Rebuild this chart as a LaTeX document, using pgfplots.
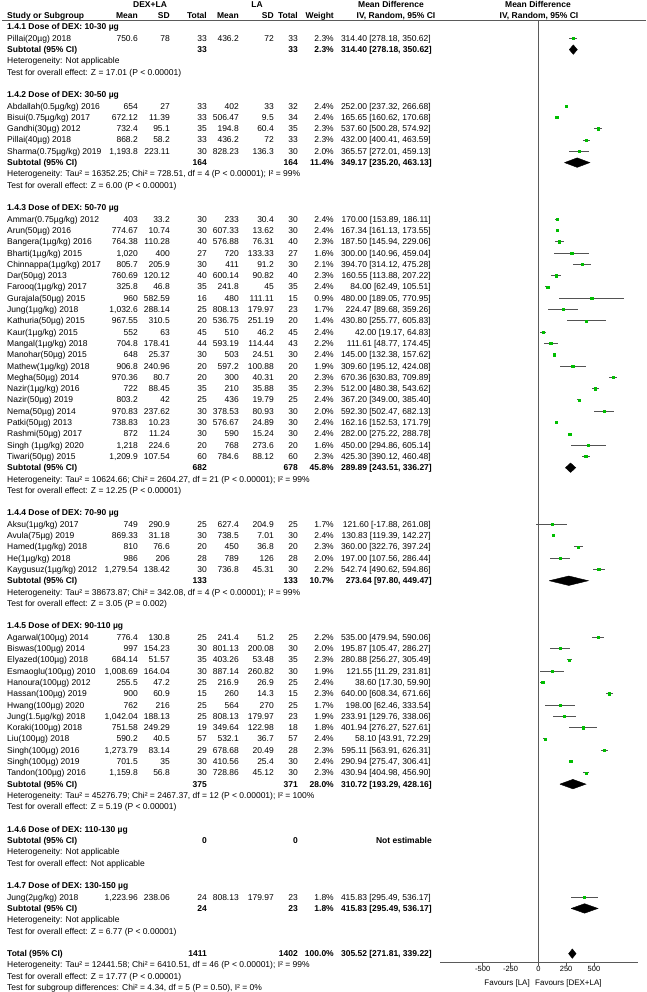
\documentclass[border=0pt]{standalone}
\usepackage{fontspec}
\setmainfont{Liberation Sans}
\usepackage{pgfplots}
\pgfplotsset{compat=1.18}
\usepackage{pgfplotstable}

\definecolor{mk}{RGB}{0,190,0}
\definecolor{ln}{RGB}{90,90,90}

% study rows: row index, mean difference, lower, upper
\pgfplotstableread{
row md lo hi
1 314.40 278.18 350.62
7 252.00 237.32 266.68
8 165.65 160.62 170.68
9 537.60 500.28 574.92
10 432.00 400.41 463.59
11 365.57 272.01 459.13
17 170.00 153.89 186.11
18 167.34 161.13 173.55
19 187.50 145.94 229.06
20 300.00 140.96 459.04
21 394.70 314.12 475.28
22 160.55 113.88 207.22
23 84.00 62.49 105.51
24 480.00 189.05 770.95
25 224.47 89.68 359.26
26 430.80 255.77 605.83
27 42.00 19.17 64.83
28 111.61 48.77 174.45
29 145.00 132.38 157.62
30 309.60 195.12 424.08
31 670.36 630.83 709.89
32 512.00 480.38 543.62
33 367.20 349.00 385.40
34 592.30 502.47 682.13
35 162.16 152.53 171.79
36 282.00 275.22 288.78
37 450.00 294.86 605.14
38 425.30 390.12 460.48
44 121.60 -17.88 261.08
45 130.83 119.39 142.27
46 360.00 322.76 397.24
47 197.00 107.56 286.44
48 542.74 490.62 594.86
54 535.00 479.94 590.06
55 195.87 105.47 286.27
56 280.88 256.27 305.49
57 121.55 11.29 231.81
58 38.60 17.30 59.90
59 640.00 608.34 671.66
60 198.00 62.46 333.54
61 233.91 129.76 338.06
62 401.94 276.27 527.61
63 58.10 43.91 72.29
64 595.11 563.91 626.31
65 290.94 275.47 306.41
66 430.94 404.98 456.90
77 415.83 295.49 536.17
}\studies

\newcounter{r}
\newcommand\ry{\arabic{r}}
\newcommand\nx{\stepcounter{r}}
\tikzset{
  L/.style={anchor=base west,inner sep=0pt,yshift=-3pt},
  R/.style={anchor=base east,inner sep=0pt,yshift=-3pt},
  C/.style={anchor=base,inner sep=0pt,yshift=-3pt}}

% one study: name, mean, sd, n, mean, sd, n, weight, ci
\newcommand\st[9]{%
  \node[L] at (7,\ry) {#1};
  \node[R] at (138,\ry) {#2};
  \node[R] at (170,\ry) {#3};
  \node[R] at (207,\ry) {#4};
  \node[R] at (239,\ry) {#5};
  \node[R] at (274,\ry) {#6};
  \node[R] at (298,\ry) {#7};
  \node[R] at (334,\ry) {#8};
  \node[R] at (431,\ry) {#9};
  \nx}
\newcommand\sub[5]{%
  \node[L] at (7,\ry) {\bfseries #1};
  \node[R] at (207,\ry) {\bfseries #2};
  \node[R] at (298,\ry) {\bfseries #3};
  \node[R] at (334,\ry) {\bfseries #4};
  \node[R] at (432,\ry) {\bfseries #5};
  \nx}
\newcommand\gh[1]{\node[L] at (7,\ry) {\bfseries #1};\nx}
\newcommand\tx[1]{\node[L] at (7,\ry) {#1};\nx}

\begin{document}
\begin{tikzpicture}[font=\fontsize{8.5}{10}\selectfont]
\useasboundingbox (0,0) rectangle (646pt,-992pt);

\begin{axis}[
  at={(440pt,-962pt)}, anchor=south west,
  scale only axis, width=198pt, height=942pt,
  xmin=-884, xmax=896, ymin=-82.74, ymax=0.62,
  enlargelimits=false, clip=false,
  axis x line*=bottom, axis y line=none,
  axis line style={-, line width=0.8pt, ln},
  xtick={-500,-250,0,250,500},
  xticklabels={-500,-250,0,250,500},
  tick align=outside, major tick length=3.5pt,
  tick style={line width=0.7pt, ln},
  xticklabel style={font=\fontsize{7.5}{9}\selectfont, inner sep=1pt},
]
\addplot[ln, line width=0.8pt] coordinates {(0,0.575) (0,-82.74)};
\addplot[only marks, mark=square*, mark size=1.1pt,
  mark options={draw=mk, fill=mk},
  error bars/.cd, x dir=both, x explicit, error mark=none,
  error bar style={line width=1pt, draw=gray!65!black}]
  table[x=md, y expr=-\thisrow{row},
        x error plus expr=\thisrow{hi}-\thisrow{md},
        x error minus expr=\thisrow{md}-\thisrow{lo}] {\studies};
% subtotal and total diamonds
\addplot[fill=black, draw=black] coordinates {(278.18,-2) (314.40,-1.58) (350.62,-2) (314.40,-2.42) (278.18,-2)};
\addplot[fill=black, draw=black] coordinates {(235.20,-12) (349.17,-11.58) (463.13,-12) (349.17,-12.42) (235.20,-12)};
\addplot[fill=black, draw=black] coordinates {(243.51,-39) (289.89,-38.58) (336.27,-39) (289.89,-39.42) (243.51,-39)};
\addplot[fill=black, draw=black] coordinates {(97.80,-49) (273.64,-48.58) (449.47,-49) (273.64,-49.42) (97.80,-49)};
\addplot[fill=black, draw=black] coordinates {(193.29,-67) (310.72,-66.58) (428.16,-67) (310.72,-67.42) (193.29,-67)};
\addplot[fill=black, draw=black] coordinates {(295.49,-78) (415.83,-77.58) (536.17,-78) (415.83,-78.42) (295.49,-78)};
\addplot[fill=black, draw=black] coordinates {(271.81,-82) (305.52,-81.58) (339.22,-82) (305.52,-82.42) (271.81,-82)};
\end{axis}

\begin{scope}[x=1pt, y=-11.3pt, yshift=-27pt]
% header
\node[C] at (150,-2) {\bfseries DEX+LA};
\node[C] at (257,-2) {\bfseries LA};
\node[C] at (391,-2) {\bfseries Mean Difference};
\node[C] at (538,-2) {\bfseries Mean Difference};
\node[L] at (7,-1.05) {\bfseries Study or Subgroup};
\node[R] at (138,-1.05) {\bfseries Mean};
\node[R] at (170,-1.05) {\bfseries SD};
\node[R] at (207,-1.05) {\bfseries Total};
\node[R] at (239,-1.05) {\bfseries Mean};
\node[R] at (274,-1.05) {\bfseries SD};
\node[R] at (298,-1.05) {\bfseries Total};
\node[R] at (334,-1.05) {\bfseries Weight};
\node[C] at (396,-1.05) {\bfseries IV, Random, 95\% CI};
\node[C] at (539,-1.05) {\bfseries IV, Random, 95\% CI};
\draw[ln, line width=0.8pt] (2,-0.575) -- (646,-0.575);

\gh{1.4.1 Dose of DEX: 10-30 µg}
\st{Pillai(20µg) 2018}{750.6}{78}{33}{436.2}{72}{33}{2.3\%}{314.40 [278.18, 350.62]}
\sub{Subtotal (95\% CI)}{33}{33}{2.3\%}{314.40 [278.18, 350.62]}
\tx{Heterogeneity: Not applicable}
\tx{Test for overall effect: Z = 17.01 (P < 0.00001)}
\nx
\gh{1.4.2 Dose of DEX: 30-50 µg}
\st{Abdallah(0.5µg/kg) 2016}{654}{27}{33}{402}{33}{32}{2.4\%}{252.00 [237.32, 266.68]}
\st{Bisui(0.75µg/kg) 2017}{672.12}{11.39}{33}{506.47}{9.5}{34}{2.4\%}{165.65 [160.62, 170.68]}
\st{Gandhi(30µg) 2012}{732.4}{95.1}{35}{194.8}{60.4}{35}{2.3\%}{537.60 [500.28, 574.92]}
\st{Pillai(40µg) 2018}{868.2}{58.2}{33}{436.2}{72}{33}{2.3\%}{432.00 [400.41, 463.59]}
\st{Sharma(0.75µg/kg) 2019}{1,193.8}{223.11}{30}{828.23}{136.3}{30}{2.0\%}{365.57 [272.01, 459.13]}
\sub{Subtotal (95\% CI)}{164}{164}{11.4\%}{349.17 [235.20, 463.13]}
\tx{Heterogeneity: Tau² = 16352.25; Chi² = 728.51, df = 4 (P < 0.00001); I² = 99\%}
\tx{Test for overall effect: Z = 6.00 (P < 0.00001)}
\nx
\gh{1.4.3 Dose of DEX: 50-70 µg}
\st{Ammar(0.75µg/kg) 2012}{403}{33.2}{30}{233}{30.4}{30}{2.4\%}{170.00 [153.89, 186.11]}
\st{Arun(50µg) 2016}{774.67}{10.74}{30}{607.33}{13.62}{30}{2.4\%}{167.34 [161.13, 173.55]}
\st{Bangera(1µg/kg) 2016}{764.38}{110.28}{40}{576.88}{76.31}{40}{2.3\%}{187.50 [145.94, 229.06]}
\st{Bharti(1µg/kg) 2015}{1,020}{400}{27}{720}{133.33}{27}{1.6\%}{300.00 [140.96, 459.04]}
\st{Chinnappa(1µg/kg) 2017}{805.7}{205.9}{30}{411}{91.2}{30}{2.1\%}{394.70 [314.12, 475.28]}
\st{Dar(50µg) 2013}{760.69}{120.12}{40}{600.14}{90.82}{40}{2.3\%}{160.55 [113.88, 207.22]}
\st{Farooq(1µg/kg) 2017}{325.8}{46.8}{35}{241.8}{45}{35}{2.4\%}{84.00 [62.49, 105.51]}
\st{Gurajala(50µg) 2015}{960}{582.59}{16}{480}{111.11}{15}{0.9\%}{480.00 [189.05, 770.95]}
\st{Jung(1µg/kg) 2018}{1,032.6}{288.14}{25}{808.13}{179.97}{23}{1.7\%}{224.47 [89.68, 359.26]}
\st{Kathuria(50µg) 2015}{967.55}{310.5}{20}{536.75}{251.19}{20}{1.4\%}{430.80 [255.77, 605.83]}
\st{Kaur(1µg/kg) 2015}{552}{63}{45}{510}{46.2}{45}{2.4\%}{42.00 [19.17, 64.83]}
\st{Mangal(1µg/kg) 2018}{704.8}{178.41}{44}{593.19}{114.44}{43}{2.2\%}{111.61 [48.77, 174.45]}
\st{Manohar(50µg) 2015}{648}{25.37}{30}{503}{24.51}{30}{2.4\%}{145.00 [132.38, 157.62]}
\st{Mathew(1µg/kg) 2018}{906.8}{240.96}{20}{597.2}{100.88}{20}{1.9\%}{309.60 [195.12, 424.08]}
\st{Megha(50µg) 2014}{970.36}{80.7}{20}{300}{40.31}{20}{2.3\%}{670.36 [630.83, 709.89]}
\st{Nazir(1µg/kg) 2016}{722}{88.45}{35}{210}{35.88}{35}{2.3\%}{512.00 [480.38, 543.62]}
\st{Nazir(50µg) 2019}{803.2}{42}{25}{436}{19.79}{25}{2.4\%}{367.20 [349.00, 385.40]}
\st{Nema(50µg) 2014}{970.83}{237.62}{30}{378.53}{80.93}{30}{2.0\%}{592.30 [502.47, 682.13]}
\st{Patki(50µg) 2013}{738.83}{10.23}{30}{576.67}{24.89}{30}{2.4\%}{162.16 [152.53, 171.79]}
\st{Rashmi(50µg) 2017}{872}{11.24}{30}{590}{15.24}{30}{2.4\%}{282.00 [275.22, 288.78]}
\st{Singh (1µg/kg) 2020}{1,218}{224.6}{20}{768}{273.6}{20}{1.6\%}{450.00 [294.86, 605.14]}
\st{Tiwari(50µg) 2015}{1,209.9}{107.54}{60}{784.6}{88.12}{60}{2.3\%}{425.30 [390.12, 460.48]}
\sub{Subtotal (95\% CI)}{682}{678}{45.8\%}{289.89 [243.51, 336.27]}
\tx{Heterogeneity: Tau² = 10624.66; Chi² = 2604.27, df = 21 (P < 0.00001); I² = 99\%}
\tx{Test for overall effect: Z = 12.25 (P < 0.00001)}
\nx
\gh{1.4.4 Dose of DEX: 70-90 µg}
\st{Aksu(1µg/kg) 2017}{749}{290.9}{25}{627.4}{204.9}{25}{1.7\%}{121.60 [-17.88, 261.08]}
\st{Avula(75µg) 2019}{869.33}{31.18}{30}{738.5}{7.01}{30}{2.4\%}{130.83 [119.39, 142.27]}
\st{Hamed(1µg/kg) 2018}{810}{76.6}{20}{450}{36.8}{20}{2.3\%}{360.00 [322.76, 397.24]}
\st{He(1µg/kg) 2018}{986}{206}{28}{789}{126}{28}{2.0\%}{197.00 [107.56, 286.44]}
\st{Kaygusuz(1µg/kg) 2012}{1,279.54}{138.42}{30}{736.8}{45.31}{30}{2.2\%}{542.74 [490.62, 594.86]}
\sub{Subtotal (95\% CI)}{133}{133}{10.7\%}{273.64 [97.80, 449.47]}
\tx{Heterogeneity: Tau² = 38673.87; Chi² = 342.08, df = 4 (P < 0.00001); I² = 99\%}
\tx{Test for overall effect: Z = 3.05 (P = 0.002)}
\nx
\gh{1.4.5 Dose of DEX: 90-110 µg}
\st{Agarwal(100µg) 2014}{776.4}{130.8}{25}{241.4}{51.2}{25}{2.2\%}{535.00 [479.94, 590.06]}
\st{Biswas(100µg) 2014}{997}{154.23}{30}{801.13}{200.08}{30}{2.0\%}{195.87 [105.47, 286.27]}
\st{Elyazed(100µg) 2018}{684.14}{51.57}{35}{403.26}{53.48}{35}{2.3\%}{280.88 [256.27, 305.49]}
\st{Esmaoglu(100µg) 2010}{1,008.69}{164.04}{30}{887.14}{260.82}{30}{1.9\%}{121.55 [11.29, 231.81]}
\st{Hanoura(100µg) 2012}{255.5}{47.2}{25}{216.9}{26.9}{25}{2.4\%}{38.60 [17.30, 59.90]}
\st{Hassan(100µg) 2019}{900}{60.9}{15}{260}{14.3}{15}{2.3\%}{640.00 [608.34, 671.66]}
\st{Hwang(100µg) 2020}{762}{216}{25}{564}{270}{25}{1.7\%}{198.00 [62.46, 333.54]}
\st{Jung(1.5µg/kg) 2018}{1,042.04}{188.13}{25}{808.13}{179.97}{23}{1.9\%}{233.91 [129.76, 338.06]}
\st{Koraki(100µg) 2018}{751.58}{249.29}{19}{349.64}{122.98}{18}{1.8\%}{401.94 [276.27, 527.61]}
\st{Liu(100µg) 2018}{590.2}{40.5}{57}{532.1}{36.7}{57}{2.4\%}{58.10 [43.91, 72.29]}
\st{Singh(100µg) 2016}{1,273.79}{83.14}{29}{678.68}{20.49}{28}{2.3\%}{595.11 [563.91, 626.31]}
\st{Singh(100µg) 2019}{701.5}{35}{30}{410.56}{25.4}{30}{2.4\%}{290.94 [275.47, 306.41]}
\st{Tandon(100µg) 2016}{1,159.8}{56.8}{30}{728.86}{45.12}{30}{2.3\%}{430.94 [404.98, 456.90]}
\sub{Subtotal (95\% CI)}{375}{371}{28.0\%}{310.72 [193.29, 428.16]}
\tx{Heterogeneity: Tau² = 45276.79; Chi² = 2467.37, df = 12 (P < 0.00001); I² = 100\%}
\tx{Test for overall effect: Z = 5.19 (P < 0.00001)}
\nx
\gh{1.4.6 Dose of DEX: 110-130 µg}
\sub{Subtotal (95\% CI)}{0}{0}{}{Not estimable}
\tx{Heterogeneity: Not applicable}
\tx{Test for overall effect: Not applicable}
\nx
\gh{1.4.7 Dose of DEX: 130-150 µg}
\st{Jung(2µg/kg) 2018}{1,223.96}{238.06}{24}{808.13}{179.97}{23}{1.8\%}{415.83 [295.49, 536.17]}
\sub{Subtotal (95\% CI)}{24}{23}{1.8\%}{415.83 [295.49, 536.17]}
\tx{Heterogeneity: Not applicable}
\tx{Test for overall effect: Z = 6.77 (P < 0.00001)}
\nx
\sub{Total (95\% CI)}{1411}{1402}{100.0\%}{305.52 [271.81, 339.22]}
\tx{Heterogeneity: Tau² = 12441.58; Chi² = 6410.51, df = 46 (P < 0.00001); I² = 99\%}
\tx{Test for overall effect: Z = 17.77 (P < 0.00001)}
\tx{Test for subgroup differences: Chi² = 4.34, df = 5 (P = 0.50), I² = 0\%}

\node[R, font=\fontsize{8}{9}\selectfont] at (530,84.6) {Favours [LA]};
\node[L, font=\fontsize{8}{9}\selectfont] at (535,84.6) {Favours [DEX+LA]};
\end{scope}
\end{tikzpicture}
\end{document}
